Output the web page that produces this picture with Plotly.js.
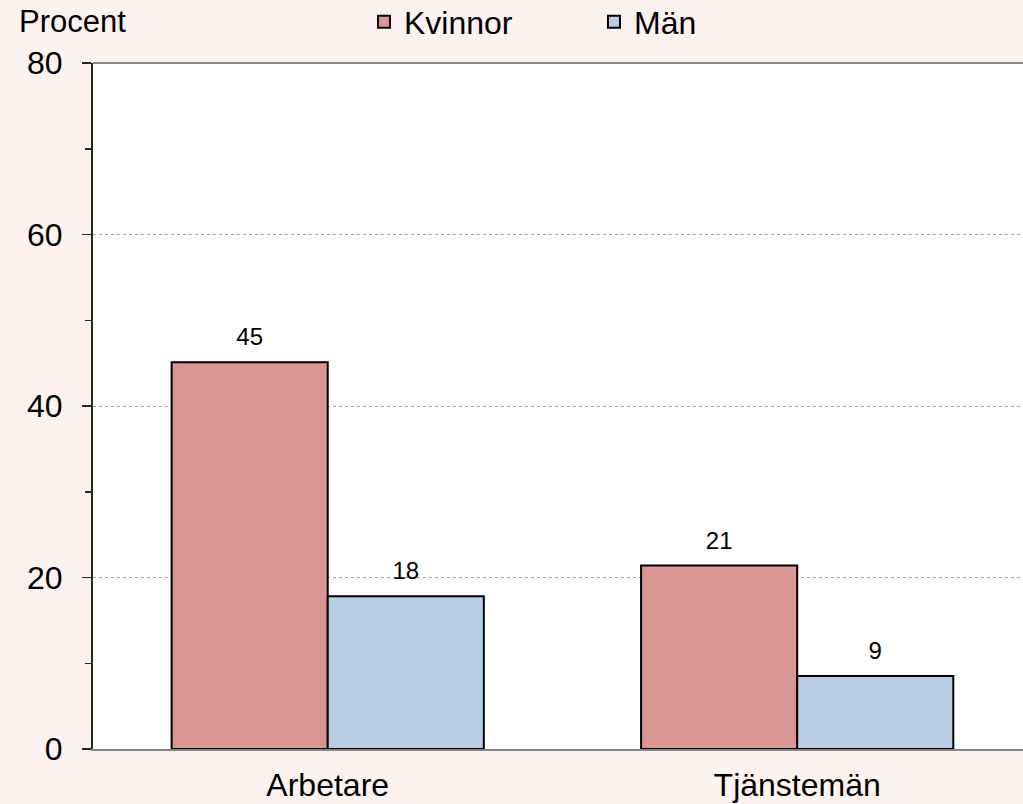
<!DOCTYPE html>
<html>
<head>
<meta charset="utf-8">
<script src="https://cdn.plot.ly/plotly-3.0.1.min.js"></script>
<style>html,body{margin:0;padding:0;background:#FEF2F1;}#chart{width:1023px;height:804px;}</style>
</head>
<body>
<div id="chart"></div>
<script>
const categories = ["Arbetare", "Tjänstemän"];
const kvinnor = [45.1, 21.4];
const man = [17.8, 8.5];
const seriesNames = ["Kvinnor", "Män"];
const yTicks = [0, 20, 40, 60, 80];

const fmt = v => String(Math.round(v));
const FONT = "Liberation Sans, Arial, sans-serif";

const bar = (name, vals, color, grp) => ({
  type: "bar", name: name, x: categories, y: vals, offsetgroup: grp,
  marker: {color: color, line: {color: "#000000", width: 2}},
  hoverinfo: "skip"
});
const lbl = (vals, grp) => ({
  type: "scatter", mode: "markers+text", x: categories, y: vals, offsetgroup: grp,
  text: vals.map(fmt), textposition: "top center",
  textfont: {family: FONT, size: 24, color: "#000000"},
  marker: {size: 16, opacity: 0}, showlegend: false, hoverinfo: "skip", cliponaxis: false
});

const data = [
  bar(seriesNames[0], kvinnor, "#D99694", "k"),
  bar(seriesNames[1], man, "#B9CDE5", "m"),
  lbl(kvinnor, "k"),
  lbl(man, "m")
];

const layout = {
  width: 1023, height: 804,
  margin: {l: 93, r: 0, t: 63, b: 55, pad: 0, autoexpand: false},
  paper_bgcolor: "#FEF2F1", plot_bgcolor: "#FFFFFF",
  font: {family: FONT, size: 32, color: "#000000"},
  barmode: "group", bargap: 0.335, bargroupgap: 0,
  scattermode: "group", scattergap: 0.335,
  showlegend: true,
  legend: {orientation: "h", x: 0.2914, xanchor: "left", yref: "container", y: 0.9726, yanchor: "middle",
           font: {family: FONT, size: 32, color: "#000000"}, bgcolor: "rgba(0,0,0,0)",
           entrywidth: 185, traceorder: "normal"},
  xaxis: {type: "category", range: [-0.5, 1.481], showline: true, linecolor: "#868686", linewidth: 2,
          ticks: "", showgrid: false, zeroline: false, ticklabelstandoff: 7,
          tickfont: {family: FONT, size: 32, color: "#000000"}, fixedrange: true},
  yaxis: {range: [0, 80], tickvals: yTicks, ticktext: yTicks.map(String),
          showline: true, linecolor: "#262626", linewidth: 2,
          ticks: "outside", ticklen: 9, tickwidth: 1.5, tickcolor: "#262626",
          minor: {dtick: 10, ticks: "outside", ticklen: 6, tickwidth: 1.5, tickcolor: "#262626", showgrid: false},
          showgrid: true, gridcolor: "#A6A6A6", gridwidth: 1, griddash: "dot",
          zeroline: false, ticklabelstandoff: 13,
          tickfont: {family: FONT, size: 32, color: "#000000"}, fixedrange: true},
  shapes: [{type: "line", xref: "paper", yref: "paper", x0: 0, x1: 1, y0: 1, y1: 1,
            line: {color: "#868686", width: 2}}],
  annotations: [{text: "Procent", xref: "paper", yref: "paper", x: -0.0817, y: 1.061,
                 xanchor: "left", yanchor: "middle", showarrow: false,
                 font: {family: FONT, size: 31, color: "#000000"}}]
};

Plotly.newPlot("chart", data, layout, {displayModeBar: false, staticPlot: true});
</script>
</body>
</html>
